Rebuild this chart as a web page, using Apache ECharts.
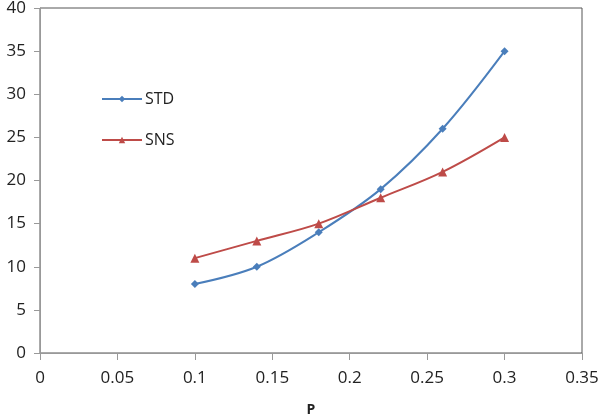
<!DOCTYPE html>
<html><head><meta charset="utf-8">
<script src="https://cdn.jsdelivr.net/npm/echarts@6/dist/echarts.min.js"></script>
<style>html,body{margin:0;padding:0;background:#fff}#c{width:600px;height:418px}</style>
</head><body><div id="c"></div>
<script>
const pValues = [0.1, 0.14, 0.18, 0.22, 0.26, 0.3];
const stdValues = [8, 10, 14, 19, 26, 35];
const snsValues = [11, 13, 15, 18, 21, 25];
const xTicks = { min: 0, max: 0.35, interval: 0.05 };
const yTicks = { min: 0, max: 40, interval: 5 };
const FONT = "'Open Sans', 'Noto Sans', sans-serif";
const chart = echarts.init(document.getElementById('c'), null, {renderer: 'canvas'});
chart.setOption({
  animation: false,
  backgroundColor: '#fff',
  grid: { left: 40, right: 18, top: 8, bottom: 65, containLabel: false, outerBoundsMode: 'none',
          show: true, borderColor: '#555', borderWidth: 1, backgroundColor: 'transparent' },
  legend: {
    orient: 'vertical', left: 96, top: 86, itemGap: 25, itemWidth: 40, itemHeight: 8,
    textStyle: { fontFamily: FONT, fontSize: 16, color: '#222', padding: [0,0,0,-2] },
    data: ['STD', 'SNS']
  },
  xAxis: {
    type: 'value', min: xTicks.min, max: xTicks.max, interval: xTicks.interval,
    name: 'P', nameLocation: 'middle', nameGap: 50,
    nameTextStyle: { fontFamily: FONT, fontSize: 14, fontWeight: 'bold', color: '#222' },
    axisLine: { lineStyle: { color: '#999', width: 1 } },
    axisTick: { show: true, length: 7, lineStyle: { color: '#999' } },
    axisLabel: { fontFamily: FONT, fontSize: 17, color: '#222', margin: 17, hideOverlap: false, formatter: v => String(+v.toFixed(2)) },
    splitLine: { show: false }
  },
  yAxis: {
    type: 'value', min: yTicks.min, max: yTicks.max, interval: yTicks.interval,
    axisLine: { show: true, lineStyle: { color: '#999', width: 1 } },
    axisTick: { show: true, length: 6, lineStyle: { color: '#999' } },
    axisLabel: { fontFamily: FONT, fontSize: 17, color: '#222', margin: 14 },
    splitLine: { show: false }
  },
  series: [
    { name: 'STD', type: 'line', smooth: 0.35, symbol: 'diamond', symbolSize: 8,
      data: pValues.map((p,i)=>[p, stdValues[i]]),
      itemStyle: { color: '#4A7EBB' }, lineStyle: { color: '#4A7EBB', width: 2 } },
    { name: 'SNS', type: 'line', smooth: 0.35, symbol: 'triangle', symbolSize: 9,
      data: pValues.map((p,i)=>[p, snsValues[i]]),
      itemStyle: { color: '#BE4B48' }, lineStyle: { color: '#BE4B48', width: 2 } }
  ]
});
</script></body></html>
